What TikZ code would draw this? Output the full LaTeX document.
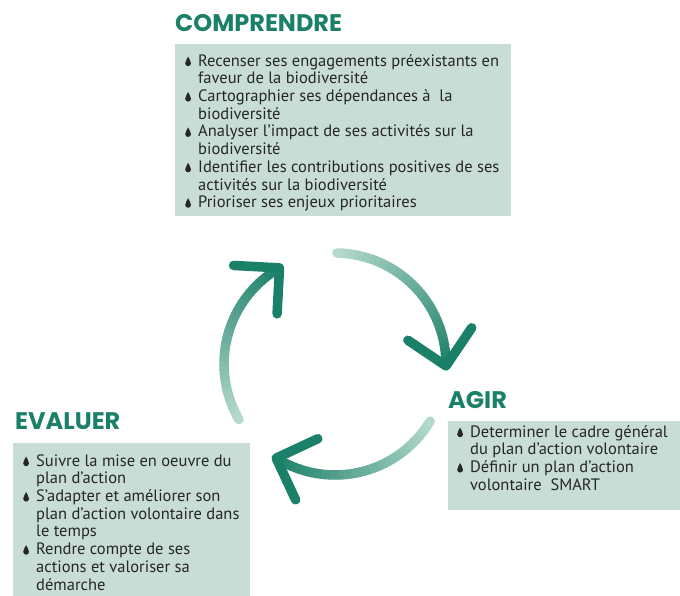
\documentclass[tikz,border=0pt]{standalone}
\usepackage{fontspec}
\setmainfont{PT Sans}
\newfontfamily\titrefont{Poppins}
\usetikzlibrary{calc,positioning}

\definecolor{vertfonce}{HTML}{1B8068}
\definecolor{vertpale}{HTML}{B4D9CD}
\definecolor{fondboite}{HTML}{C8DDD6}
\definecolor{texte}{HTML}{262626}

\newcommand{\goutte}{\tikz[baseline=0pt,x=1pt,y=1pt]\fill[texte] (2.9,9.6) .. controls (3.3,7.8) and (5.8,5.6) .. (5.8,2.9) arc[start angle=0,end angle=-180,radius=2.9pt] .. controls (0,5.6) and (2.5,7.8) .. (2.9,9.6) -- cycle;}
\newcommand{\puce}{\strut\makebox[13pt][l]{\goutte}}
\newcommand{\suite}{\hspace*{13pt}}

\tikzset{
  titre/.style={anchor=base west, inner sep=0pt, text=vertfonce, font=\titrefont\bfseries\fontsize{24}{28}\selectfont},
  liste/.style={anchor=north west, inner sep=0pt, align=left, text=texte, font=\fontsize{16.5}{17.7}\selectfont},
  boite/.style={fill=fondboite, anchor=north west, inner sep=0pt},
  fleche/.style={line width=9.5pt, line cap=round, line join=round, vertfonce},
}

\begin{document}
\begin{tikzpicture}[x=1pt,y=1pt]
\useasboundingbox (0,0) rectangle (680,-596);

% boites
\node[boite, minimum width=336pt, minimum height=172pt] (bcomp) at (175,-44) {};
\node[boite, minimum width=232pt, minimum height=89pt] (bagir) at (448,-421) {};
\node[boite, minimum width=237pt, minimum height=153pt] (beval) at (13,-443) {};

% titres
\node[titre] (tcomp) at (175,-32) {COMPRENDRE};
\node[titre] (tagir) at (448,-408) {AGIR};
\node[titre] (teval) at (15,-429) {EVALUER};

% listes
\node[liste] (lcomp) at (185,-53.6) {\puce Recenser ses engagements préexistants en\\
\suite faveur de la biodiversité\\
\puce Cartographier ses dépendances à~ la\\
\suite biodiversité\\
\puce Analyser l’impact de ses activités sur la\\
\suite biodiversité\\
\puce Identifier les contributions positives de ses\\
\suite activités sur la biodiversité\\
\puce Prioriser ses enjeux prioritaires};
\node[liste] (lagir) at (457,-424.6) {\puce Determiner le cadre général\\
\suite du plan d’action volontaire\\
\puce Définir un plan d’action\\
\suite volontaire~ SMART};
\node[liste] (leval) at (23,-453.6) {\puce Suivre la mise en oeuvre du\\
\suite plan d’action\\
\puce S’adapter et améliorer son\\
\suite plan d’action volontaire dans\\
\suite le temps\\
\puce Rendre compte de ses\\
\suite actions et valoriser sa\\
\suite démarche};

% cycle
\coordinate (centre) at (335,-364);
\foreach \deb/\fin in {89/-1, -31/-122, 210/120} {
  \fill[vertpale] ($(centre)+(\deb:111)$) circle (4.75pt);
  \foreach \i in {0,...,39} {
    \pgfmathsetmacro\a{\deb-\i*(\deb-\fin)/40}
    \pgfmathsetmacro\b{\a-(\deb-\fin)/40-0.6}
    \pgfmathtruncatemacro\pct{\i*100/39}
    \draw[line width=9.5pt, vertfonce!\pct!vertpale] ($(centre)+(\a:111)$) arc[start angle=\a, end angle=\b, radius=111pt];
  }
  \coordinate (pointe) at ($(centre)+(\fin:111)$);
  \draw[fleche] ($(pointe)+(\fin+147:46)$) -- (pointe) -- ($(pointe)+(\fin+57:46)$);
}
\end{tikzpicture}
\end{document}
